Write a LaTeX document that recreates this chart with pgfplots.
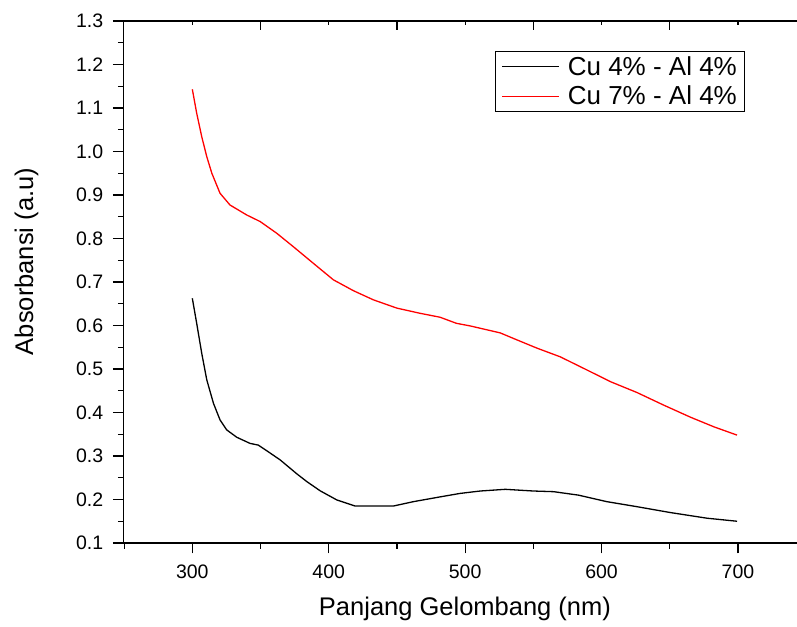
\documentclass[border=0pt]{standalone}
\usepackage{pgfplots}
\pgfplotsset{compat=1.18}
\usepackage{fontspec}
\setmainfont{Liberation Sans}
\begin{document}
\begin{tikzpicture}[x=1pt,y=1pt]
\useasboundingbox (0,0) rectangle (797,626);
\pgfplotsset{
  common/.style={
    at={(123.3pt,83pt)}, anchor=south west,
    scale only axis, width=674.3pt, height=522pt,
    xmin=249.4, xmax=743.7, ymin=0.1, ymax=1.3,
    axis line style={line width=1.3pt, black},
    every tick/.style={black, line width=1.2pt},
  }
}
\begin{axis}[common,
  axis x line*=bottom, axis y line*=left,
  tick align=outside,
  major tick length=10.5pt, minor tick length=5.5pt,
  xtick={300,400,500,600,700}, minor xtick={250,350,450,550,650},
  ytick={0.1,0.2,...,1.31}, minor ytick={0.15,0.25,...,1.26},
  /pgf/number format/assume math mode=true,
  ticklabel style={font=\fontsize{19.5}{22}\selectfont},
  yticklabel style={/pgf/number format/.cd, fixed, fixed zerofill, precision=1, /tikz/.cd, xshift=-6pt},
  xticklabel style={/pgf/number format/.cd, fixed, precision=0, /tikz/.cd, yshift=-8pt},
  xlabel={Panjang Gelombang (nm)},
  ylabel={Absorbansi (a.u)},
  label style={font=\fontsize{25.5}{30}\selectfont},
  xlabel style={at={(rel axis cs:0.5067,-0.1265)}, anchor=center},
  ylabel style={at={(rel axis cs:-0.1436,0.5393)}, anchor=center, rotate=0},
  legend style={at={(rel axis cs:0.5512,0.9425)}, anchor=north west,
    draw=black, line width=1.2pt, font=\fontsize{26}{30}\selectfont,
    inner xsep=6pt, inner ysep=3pt, row sep=5pt,
    legend cell align=left},
  legend image code/.code={\draw[#1, line width=1.2pt] (0pt,0pt) -- (57pt,0pt); \path (63pt,0pt);},
]
\addplot[black, line width=1.3pt] coordinates {
(300,0.6625) (303.2,0.605) (306.9,0.536) (310.6,0.475) (315.5,0.421)
(320.3,0.383) (325.2,0.360) (332.6,0.343) (342.3,0.329) (348.4,0.325)
(354.6,0.312) (364.4,0.291) (376.6,0.259) (384,0.241) (393.7,0.220)
(405.9,0.199) (419.3,0.185) (447.4,0.185) (462,0.195) (481.6,0.206)
(496.3,0.214) (511,0.2195) (529.4,0.2234) (550.1,0.2195) (564.8,0.218)
(583.1,0.210) (603.9,0.195) (625.9,0.1835) (650.4,0.170) (677.3,0.157)
(699.3,0.150)
};
\addlegendentry{Cu 4\% - Al 4\%}
\addplot[red, line width=1.3pt] coordinates {
(300,1.143) (303.2,1.088) (306.9,1.034) (310.6,0.988) (314.3,0.950)
(320.3,0.904) (327.6,0.877) (339.9,0.854) (349.7,0.839) (361.9,0.812)
(374.1,0.781) (388.7,0.743) (403.4,0.705) (418.1,0.680) (432.7,0.659)
(449.9,0.640) (467,0.628) (481.6,0.619) (493.6,0.605) (503.7,0.599)
(525.7,0.583) (537.9,0.567) (552.6,0.548) (569.7,0.528) (591.7,0.494)
(606.4,0.471) (625.9,0.446) (645.5,0.417) (665.3,0.389) (682.4,0.367)
(699.3,0.348)
};
\addlegendentry{Cu 7\% - Al 4\%}
\end{axis}
\begin{axis}[common,
  axis x line*=top, axis y line=none,
  tick align=inside,
  major tick length=9.3pt, minor tick length=4.3pt,
  xtick={350,450,550,650}, minor xtick={300,400,500,600,700},
  xticklabels={}, ytick=\empty,
]
\addplot[draw=none] coordinates {(300,0.5)};
\end{axis}
\end{tikzpicture}
\end{document}
